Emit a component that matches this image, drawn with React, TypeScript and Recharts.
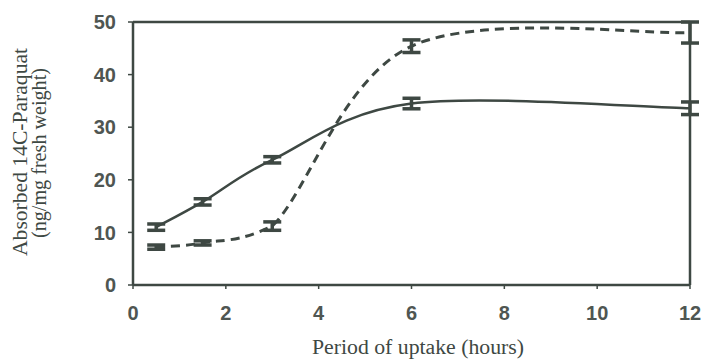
import React from "react";
import { LineChart, Line, XAxis, YAxis, ErrorBar, ReferenceLine, Label } from "recharts";

const hours = [0.5, 1.5, 3, 6, 12];
const solidValues = [11.0, 15.8, 23.8, 34.5, 33.6];
const solidErrors = [0.6, 0.6, 0.6, 1.0, 1.2];
const dashedValues = [7.2, 8.0, 11.2, 45.4, 48.0];
const dashedErrors = [0.4, 0.4, 0.8, 1.2, 2.0];
const xTicks = [0, 2, 4, 6, 8, 10, 12];
const yTicks = [0, 10, 20, 30, 40, 50];

const data = hours.map((h, i) => ({
  h,
  solid: solidValues[i],
  solidErr: solidErrors[i],
  dashed: dashedValues[i],
  dashedErr: dashedErrors[i],
}));

const INK = "#3e4843";
const TICK_INK = "#4f5652";

// Catmull-Rom style smoothing (like a spreadsheet "smoothed line"),
// with the incoming control point kept inside the segment's range.
const smoothCurve: any = (context: any) => {
  let pts: [number, number][] = [];
  return {
    areaStart() {},
    areaEnd() {},
    lineStart() {
      pts = [];
    },
    lineEnd() {
      const n = pts.length;
      if (!n) return;
      context.moveTo(pts[0][0], pts[0][1]);
      for (let i = 0; i < n - 1; i++) {
        const p0 = pts[Math.max(0, i - 1)];
        const p1 = pts[i];
        const p2 = pts[i + 1];
        const p3 = pts[Math.min(n - 1, i + 2)];
        const lo = Math.min(p1[1], p2[1]);
        const hi = Math.max(p1[1], p2[1]);
        let c2y = p2[1] - (p3[1] - p1[1]) / 6;
        c2y = Math.max(lo, Math.min(hi, c2y));
        context.bezierCurveTo(
          p1[0] + (p2[0] - p0[0]) / 6,
          p1[1] + (p2[1] - p0[1]) / 6,
          p2[0] - (p3[0] - p1[0]) / 6,
          c2y,
          p2[0],
          p2[1]
        );
      }
    },
    point(x: number, y: number) {
      pts.push([+x, +y]);
    },
  };
};

const serif = "Liberation Serif, Times New Roman, serif";
const sans = "Liberation Sans, Arial, sans-serif";

const YLabel = () => (
  <g style={{ fontFamily: serif }}>
    <text
      x={0}
      y={0}
      transform="translate(27,152) rotate(-90)"
      textAnchor="middle"
      style={{ fontFamily: serif, fontSize: 20 }}
      fill={INK}
      textLength={208}
      lengthAdjust="spacingAndGlyphs"
    >
      Absorbed 14C-Paraquat
    </text>
    <text
      x={0}
      y={0}
      transform="translate(46,153) rotate(-90)"
      textAnchor="middle"
      style={{ fontFamily: serif, fontSize: 20 }}
      fill={INK}
      textLength={170}
      lengthAdjust="spacingAndGlyphs"
    >
      (ng/mg fresh weight)
    </text>
  </g>
);

const XLabel = () => (
  <text
    x={418}
    y={354}
    textAnchor="middle"
    style={{ fontFamily: serif, fontSize: 20 }}
    fill={INK}
    textLength={212}
    lengthAdjust="spacingAndGlyphs"
  >
    Period of uptake  (hours)
  </text>
);

export default function App() {
  return (
    <div style={{ position: "absolute", left: 0, top: 0, background: "#fff" }}>
      <LineChart
        width={704}
        height={362}
        data={data}
        margin={{ top: 22, right: 14, bottom: 27, left: 73 }}
      >
        <XAxis
          dataKey="h"
          type="number"
          domain={[0, 12]}
          ticks={xTicks}
          height={50}
          axisLine={{ stroke: INK, strokeWidth: 2.5 }}
          tickLine={{ stroke: INK, strokeWidth: 1.5 }}
          tickSize={4}
          tickMargin={17}
          tick={{ fill: TICK_INK, fontFamily: sans, fontSize: 20, fontWeight: "bold" }}
        >
          <Label content={<XLabel />} />
        </XAxis>
        <YAxis
          type="number"
          domain={[0, 50]}
          ticks={yTicks}
          width={60}
          axisLine={{ stroke: INK, strokeWidth: 2.5 }}
          tickLine={{ stroke: INK, strokeWidth: 1.5 }}
          tickSize={5}
          tickMargin={12}
          tick={{ fill: TICK_INK, fontFamily: sans, fontSize: 20, fontWeight: "bold" }}
        >
          <Label content={<YLabel />} />
        </YAxis>
        <ReferenceLine y={50} stroke={INK} strokeWidth={2.5} ifOverflow="extendDomain" />
        <ReferenceLine x={12} stroke={INK} strokeWidth={2.5} />
        <Line
          dataKey="solid"
          type={smoothCurve}
          stroke={INK}
          strokeWidth={2.5}
          dot={false}
          activeDot={false}
          isAnimationActive={false}
        >
          <ErrorBar dataKey="solidErr" width={9} stroke={INK} strokeWidth={3.5} />
        </Line>
        <Line
          dataKey="dashed"
          type={smoothCurve}
          stroke={INK}
          strokeWidth={3}
          strokeDasharray="9 6"
          dot={false}
          activeDot={false}
          isAnimationActive={false}
        >
          <ErrorBar dataKey="dashedErr" width={9} stroke={INK} strokeWidth={3.5} />
        </Line>
      </LineChart>
    </div>
  );
}
